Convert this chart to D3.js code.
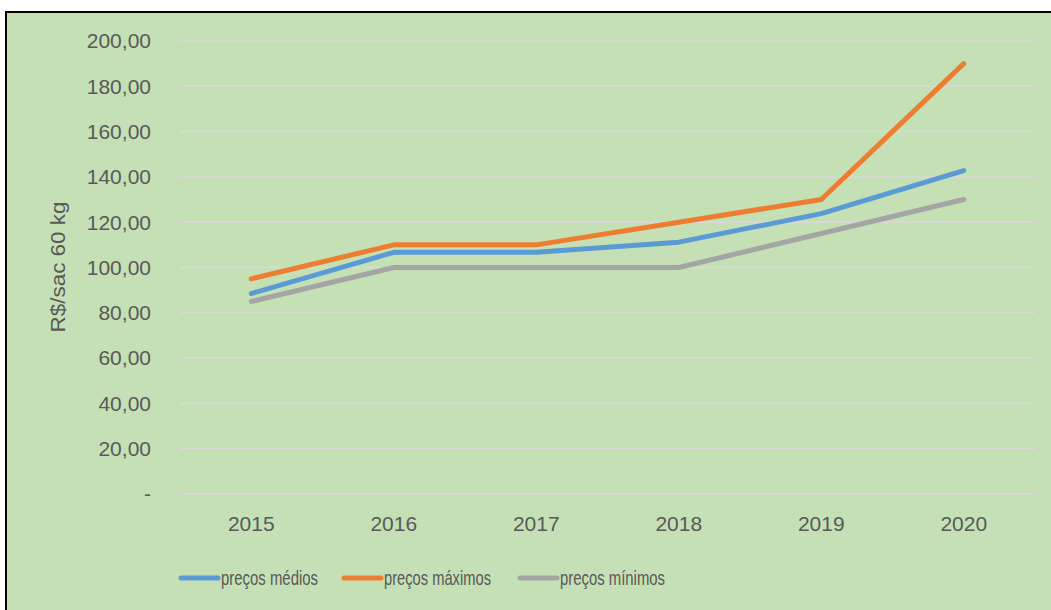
<!DOCTYPE html>
<html>
<head>
<meta charset="utf-8">
<script src="https://cdn.jsdelivr.net/npm/d3@7"></script>
<style>
	body { margin: 0; background: #fff; }
	svg { display: block; }
	text { font-family: "Liberation Sans", Arial, sans-serif; fill: #595959; }
</style>
</head>
<body>
<svg class="chart"></svg>
<script>
var years = ["2015", "2016", "2017", "2018", "2019", "2020"];
var precosMedios = [88.5, 106.7, 106.7, 111.2, 123.8, 142.8];
var precosMaximos = [95, 110, 110, 120, 130, 190];
var precosMinimos = [85, 100, 100, 100, 115, 130];
var yTicks = [0, 20, 40, 60, 80, 100, 120, 140, 160, 180, 200];
var seriesNames = ["preços médios", "preços máximos", "preços mínimos"];
var seriesColors = ["#5B9BD5", "#ED7D31", "#A5A5A5"];

var width = 1051;
var height = 610;

var svg = d3.select(".chart")
	.attr("width", width)
	.attr("height", height);

// chart area with border
svg.append("rect")
	.attr("x", 6)
	.attr("y", 12)
	.attr("width", width)
	.attr("height", height)
	.attr("fill", "#C5E0B4")
	.attr("stroke", "#000")
	.attr("stroke-width", 2);

var x = d3.scaleBand()
	.domain(years)
	.range([180, 1035]);

var y = d3.scaleLinear()
	.domain([0, 200])
	.range([494, 41]);

// gridlines
svg.append("g")
	.selectAll("line")
	.data(yTicks)
	.enter()
	.append("line")
		.attr("x1", 180)
		.attr("x2", 1035)
		.attr("y1", function(d) { return y(d); })
		.attr("y2", function(d) { return y(d); })
		.attr("stroke", "#D9D9D9")
		.attr("stroke-width", 1.5);

// y axis labels
var fmt = function(d) {
	return d === 0 ? "-" : d3.format(".2f")(d).replace(".", ",");
};
svg.append("g")
	.selectAll("text")
	.data(yTicks)
	.enter()
	.append("text")
		.attr("x", 151)
		.attr("y", function(d) { return y(d); })
		.attr("dy", "0.35em")
		.attr("text-anchor", "end")
		.style("font-size", "21px")
		.text(fmt);

// x axis labels
svg.append("g")
	.selectAll("text")
	.data(years)
	.enter()
	.append("text")
		.attr("x", function(d) { return x(d) + x.bandwidth() / 2; })
		.attr("y", 524)
		.attr("dy", "0.35em")
		.attr("text-anchor", "middle")
		.style("font-size", "21px")
		.text(function(d) { return d; });

// y axis title
svg.append("text")
	.attr("transform", "translate(58,267) rotate(-90)")
	.attr("dy", "0.35em")
	.attr("text-anchor", "middle")
	.attr("textLength", 131)
	.attr("lengthAdjust", "spacingAndGlyphs")
	.style("font-size", "21px")
	.text("R$/sac 60 kg");

// lines
var seriesData = [precosMedios, precosMaximos, precosMinimos];
var line = d3.line()
	.x(function(d, i) { return x(years[i]) + x.bandwidth() / 2; })
	.y(function(d) { return y(d); });

svg.append("g")
	.selectAll("path")
	.data(seriesData)
	.enter()
	.append("path")
		.attr("d", line)
		.attr("fill", "none")
		.attr("stroke", function(d, i) { return seriesColors[i]; })
		.attr("stroke-width", 5)
		.attr("stroke-linecap", "round")
		.attr("stroke-linejoin", "round");

// legend
var legendX = [181, 344, 520];
var legendW = [97, 107, 105];
var legend = svg.append("g")
	.selectAll("g")
	.data(seriesNames)
	.enter()
	.append("g")
		.attr("transform", function(d, i) { return "translate(" + legendX[i] + ",578)"; });

legend.append("line")
	.attr("x1", 0)
	.attr("x2", 37)
	.attr("stroke", function(d, i) { return seriesColors[i]; })
	.attr("stroke-width", 5)
	.attr("stroke-linecap", "round");

legend.append("text")
	.attr("x", 40)
	.attr("dy", "0.35em")
	.attr("textLength", function(d, i) { return legendW[i]; })
	.attr("lengthAdjust", "spacingAndGlyphs")
	.style("font-size", "21px")
	.text(function(d) { return d; });
</script>
</body>
</html>
